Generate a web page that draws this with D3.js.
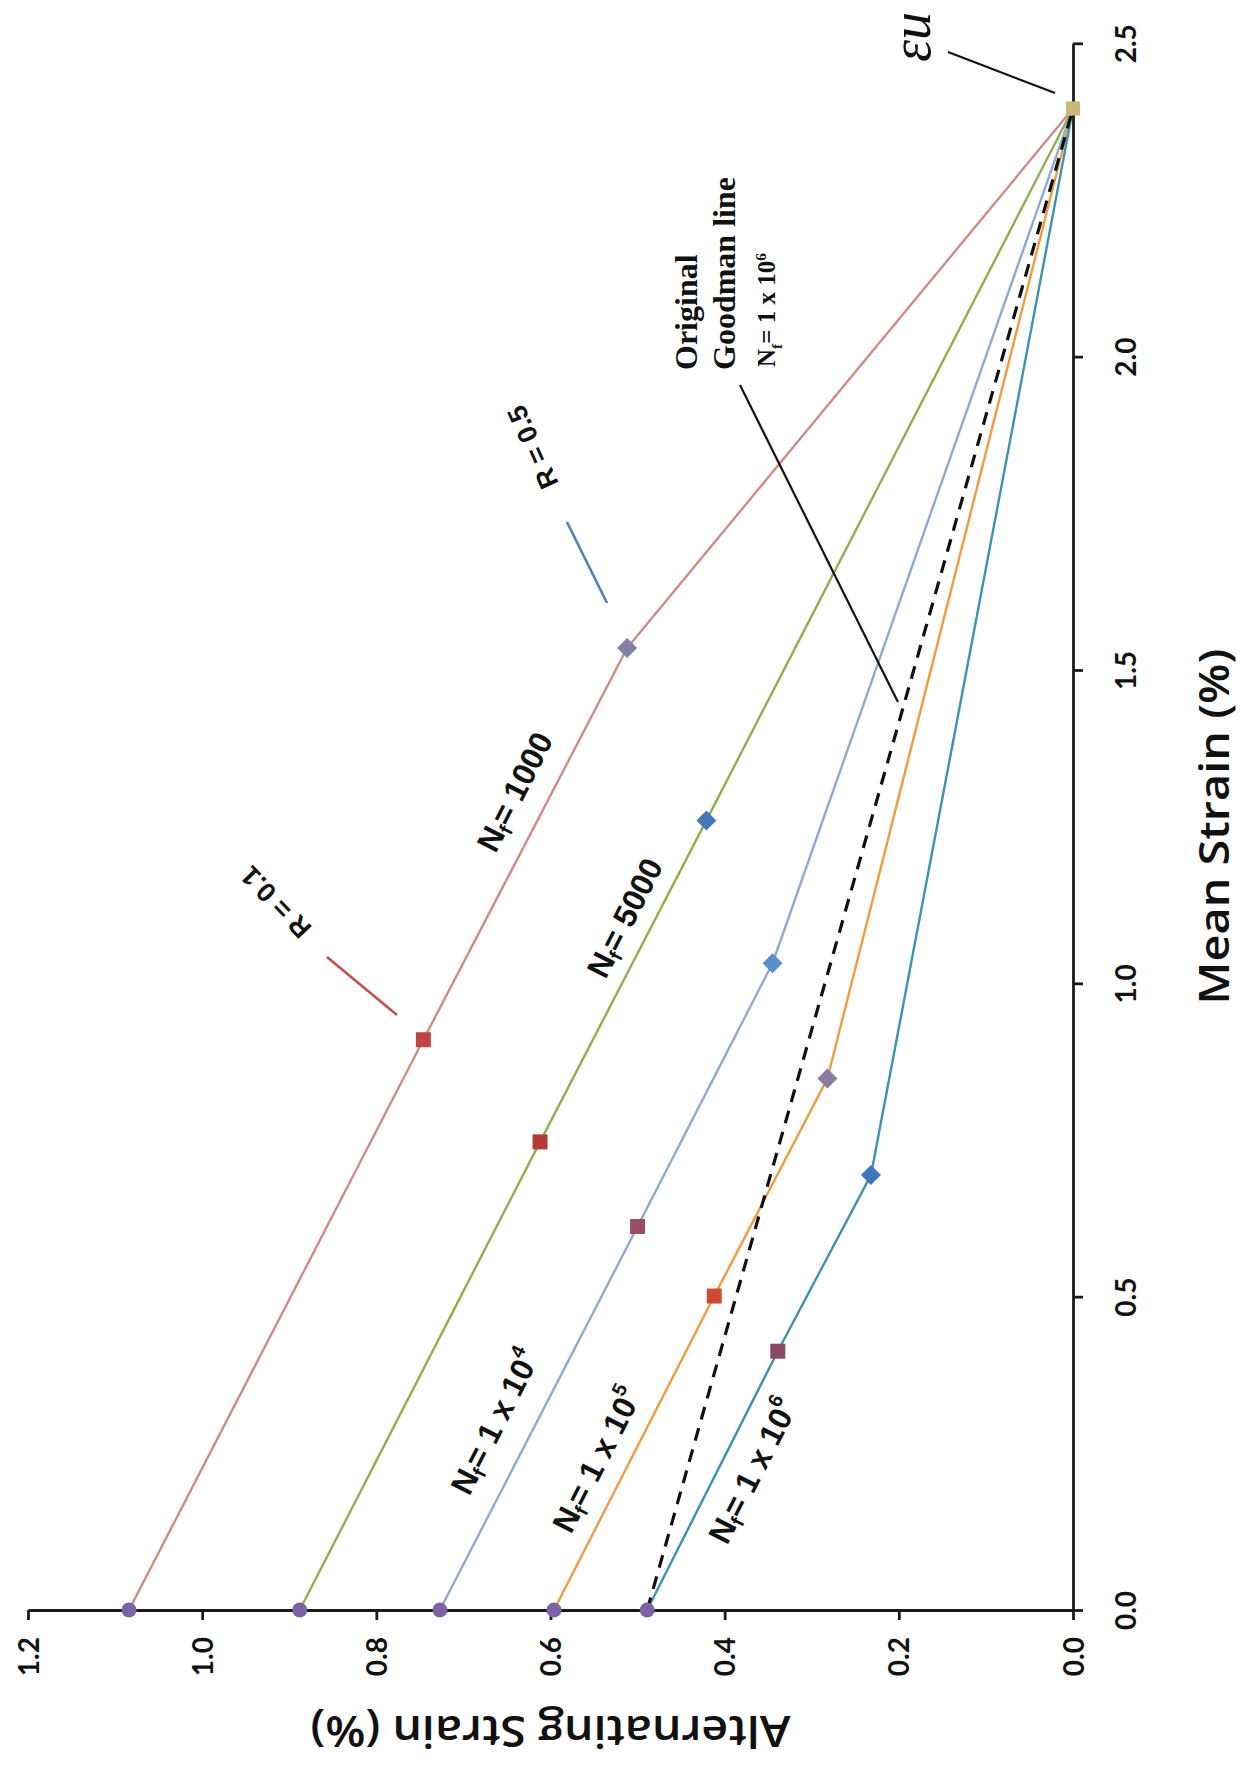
<!DOCTYPE html>
<html>
<head>
<meta charset="utf-8">
<script src="https://cdn.jsdelivr.net/npm/d3@7"></script>
<style>
  html, body { margin: 0; padding: 0; background: #ffffff; }
  svg { display: block; }
</style>
</head>
<body>
<svg id="chart" width="1243" height="1769"></svg>
<script>
// ---------------- DATA ----------------
// Fatigue-life curves (constant life), mean strain (%) vs alternating strain (%)
const seriesNames = ["Nf = 1000", "Nf = 5000", "Nf = 1 x 10^4", "Nf = 1 x 10^5", "Nf = 1 x 10^6"];
// R = -1 points (mean strain = 0)
const altAtZeroMean = [1.084, 0.888, 0.727, 0.596, 0.489];
// R = 0.1 points
const meanAtR01 = [0.910, 0.747, 0.612, 0.501, 0.413];
const altAtR01  = [0.746, 0.612, 0.500, 0.412, 0.339];
// R = 0.5 points
const meanAtR05 = [1.535, 1.260, 1.032, 0.848, 0.694];
const altAtR05  = [0.512, 0.421, 0.345, 0.282, 0.232];
// ultimate strain (alternating = 0)
const ultimateStrain = 2.396;
// Original Goodman line, Nf = 1e6
const goodmanMean = [0, 2.396];
const goodmanAlt  = [0.489, 0];
// axis ticks
const meanTicks = [0, 0.5, 1.0, 1.5, 2.0, 2.5];
const altTicks  = [0, 0.2, 0.4, 0.6, 0.8, 1.0, 1.2];

// ---------------- STYLES ----------------
const lineColors    = ["#d08b89", "#8fb04c", "#8eaad4", "#f29b3e", "#3e92b3"];
const squareColors  = ["#bf4543", "#b43a38", "#9a4d66", "#cf4b33", "#894b65"];
const diamondColors = ["#857fa2", "#4677b6", "#5c8fcc", "#8a7d9c", "#3b78bd"];
const circleColor = "#7e62a6";
const apexColor = "#c8b87e";
const axisColor = "#1a1a1a";

// ---------------- SCALES (figure is rotated: mean strain runs up, alternating runs left) ----------------
const svg = d3.select("#chart");
const xV = d3.scaleLinear().domain([0, 1.2]).range([1073, 28]);     // alternating strain -> screen x
const yM = d3.scaleLinear().domain([0, 2.5]).range([1610, 43.3]);   // mean strain -> screen y

const series = seriesNames.map((name, i) => ({
  name,
  pts: [
    { m: 0, v: altAtZeroMean[i] },
    { m: meanAtR01[i], v: altAtR01[i] },
    { m: meanAtR05[i], v: altAtR05[i] },
    { m: ultimateStrain, v: 0 }
  ]
}));

const line = d3.line().x(d => xV(d.v)).y(d => yM(d.m));

// ---------------- LINES ----------------
const gLines = svg.append("g");
series.forEach((s, i) => {
  gLines.append("path")
    .attr("d", line(s.pts))
    .attr("fill", "none")
    .attr("stroke", lineColors[i])
    .attr("stroke-width", 2.4)
    .attr("stroke-linejoin", "round");
});
const goodPts = goodmanMean.map((m, i) => ({ m, v: goodmanAlt[i] }));
gLines.append("path")
  .attr("d", line(goodPts))
  .attr("fill", "none")
  .attr("stroke", "#111")
  .attr("stroke-width", 3.2)
  .attr("stroke-dasharray", "13,9");

// ---------------- AXES ----------------
const fmt = d3.format(".1f");
const axR = svg.append("g")
  .attr("transform", `translate(${xV(0)},0)`)
  .call(d3.axisRight(yM).tickValues(meanTicks).tickFormat(fmt).tickSize(10).tickSizeOuter(0));
const axB = svg.append("g")
  .attr("transform", `translate(0,${yM(0)})`)
  .call(d3.axisBottom(xV).tickValues(altTicks).tickFormat(fmt).tickSize(10).tickSizeOuter(0));

[axR, axB].forEach(ax => {
  ax.attr("font-family", "Lato, 'Open Sans', sans-serif").attr("font-size", 28).attr("font-weight", 700);
  ax.select(".domain").attr("stroke", axisColor).attr("stroke-width", 2.8);
  ax.selectAll(".tick line").attr("stroke", axisColor).attr("stroke-width", 2.8);
  ax.selectAll(".tick text").attr("fill", "#111").attr("x", 0).attr("y", 0).attr("dy", 0);
});
axR.selectAll(".tick text")
  .attr("text-anchor", "middle")
  .attr("transform", "translate(63,0) rotate(-90)");
axB.selectAll(".tick text")
  .attr("text-anchor", "end")
  .attr("transform", "translate(10,27) rotate(-90)");

// axis titles
svg.append("text")
  .attr("transform", `translate(1229,${yM(1.25)}) rotate(-90)`)
  .attr("text-anchor", "middle")
  .attr("font-family", "'Open Sans', Lato, sans-serif")
  .attr("font-weight", 600)
  .attr("font-size", 42)
  .attr("textLength", 356)
  .attr("lengthAdjust", "spacingAndGlyphs")
  .attr("fill", "#111")
  .text("Mean Strain (%)");
svg.append("text")
  .attr("transform", `translate(${xV(0.6)},1716) rotate(180)`)
  .attr("text-anchor", "middle")
  .attr("font-family", "'Open Sans', Lato, sans-serif")
  .attr("font-weight", 600)
  .attr("font-size", 44)
  .attr("textLength", 480)
  .attr("lengthAdjust", "spacingAndGlyphs")
  .attr("fill", "#111")
  .text("Alternating Strain (%)");

// ---------------- MARKERS ----------------
const gMarks = svg.append("g");
const sq = d3.symbol().type(d3.symbolSquare).size(225);
const dia = d3.symbol().type(d3.symbolSquare).size(200);
series.forEach((s, i) => {
  gMarks.append("circle")
    .attr("cx", xV(s.pts[0].v)).attr("cy", yM(s.pts[0].m)).attr("r", 7.5)
    .attr("fill", circleColor);
  gMarks.append("path")
    .attr("d", sq())
    .attr("transform", `translate(${xV(s.pts[1].v)},${yM(s.pts[1].m)})`)
    .attr("fill", squareColors[i]);
  gMarks.append("path")
    .attr("d", dia())
    .attr("transform", `translate(${xV(s.pts[2].v)},${yM(s.pts[2].m)}) rotate(45)`)
    .attr("fill", diamondColors[i]);
});
gMarks.append("path")
  .attr("d", d3.symbol().type(d3.symbolSquare).size(200)())
  .attr("transform", `translate(${xV(0)},${yM(ultimateStrain)})`)
  .attr("fill", apexColor);

// ---------------- ANNOTATIONS ----------------
const gAnn = svg.append("g");
function callout(p0, p1, color, w) {
  gAnn.append("line")
    .attr("x1", xV(p0[1])).attr("y1", yM(p0[0]))
    .attr("x2", xV(p1[1])).attr("y2", yM(p1[0]))
    .attr("stroke", color).attr("stroke-width", w);
}
// [mean, alternating] end points
callout([1.0420, 0.8567], [0.9494, 0.7763], "#c0504d", 2.6);   // R = 0.1
callout([1.7361, 0.5811], [1.6069, 0.5351], "#4f81bd", 2.6);   // R = 0.5
callout([1.9547, 0.3824], [1.4489, 0.2010], "#111", 2.2);      // Goodman
callout([2.4861, 0.1435], [2.4207, 0.0207], "#111", 2.2);      // eps_u

function richLabel(segs, opts) {
  const fs = opts.size;
  const t = gAnn.append("text")
    .attr("transform", `translate(${xV(opts.v)},${yM(opts.m)}) rotate(${opts.rot})`)
    .attr("font-size", fs)
    .attr("font-family", opts.family)
    .attr("font-weight", opts.weight || 700)
    .attr("font-style", opts.style || "normal")
    .attr("text-anchor", opts.anchor || "middle")
    .attr("dominant-baseline", opts.baseline || "central")
    .attr("fill", "#111");
  let shift = 0;
  segs.forEach(s => {
    const sp = t.append("tspan").text(s.t);
    const target = s.sub ? 0.28 * fs : (s.sup ? -0.38 * fs : 0);
    const dy = target - shift;
    if (dy !== 0) sp.attr("dy", dy);
    if (s.sub || s.sup) sp.attr("font-size", fs * 0.62);
    if (s.it) sp.attr("font-style", "italic");
    shift = target;
  });
  return t;
}
const sans = "'Liberation Sans', Arial, sans-serif";
const serif = "'Liberation Serif', 'Times New Roman', serif";

// life labels
const nfLabelPos = [
  { m: 1.3053, v: 0.6408 },
  { m: 1.1042, v: 0.5145 },
  { m: 0.3000, v: 0.6637 },
  { m: 0.2394, v: 0.5466 },
  { m: 0.2218, v: 0.3675 }
];
const nfSegs = [
  [{ t: "N" }, { t: "f", sub: true }, { t: "= 1000" }],
  [{ t: "N" }, { t: "f", sub: true }, { t: "= 5000" }],
  [{ t: "N" }, { t: "f", sub: true }, { t: "= 1 x 10" }, { t: "4", sup: true }],
  [{ t: "N" }, { t: "f", sub: true }, { t: "= 1 x 10" }, { t: "5", sup: true }],
  [{ t: "N" }, { t: "f", sub: true }, { t: "= 1 x 10" }, { t: "6", sup: true }]
];
nfSegs.forEach((segs, i) => {
  richLabel(segs, { m: nfLabelPos[i].m, v: nfLabelPos[i].v, rot: -63, size: 32, family: sans });
});

// R labels
richLabel([{ t: "R = 0.1" }], { m: 1.1298, v: 0.9152, rot: -134, size: 27, family: sans });
richLabel([{ t: "R = 0.5" }], { m: 1.8558, v: 0.6201, rot: -114, size: 27, family: sans });

// Goodman text block
richLabel([{ t: "Original" }], { m: 1.9787, v: 0.4318, rot: -90, size: 32, family: serif, anchor: "start", baseline: "alphabetic" });
richLabel([{ t: "Goodman line" }], { m: 1.9787, v: 0.3881, rot: -90, size: 32, family: serif, anchor: "start", baseline: "alphabetic" });
richLabel([{ t: "N" }, { t: "f", sub: true }, { t: "= 1 x 10" }, { t: "6", sup: true }],
  { m: 1.9835, v: 0.3422, rot: -90, size: 25, family: serif, anchor: "start", baseline: "alphabetic" });

// ultimate strain label
richLabel([{ t: "εu" }], { m: 2.4702, v: 0.1642, rot: -90, size: 56, family: serif, style: "italic", weight: 400, anchor: "start", baseline: "alphabetic" });
</script>
</body>
</html>
